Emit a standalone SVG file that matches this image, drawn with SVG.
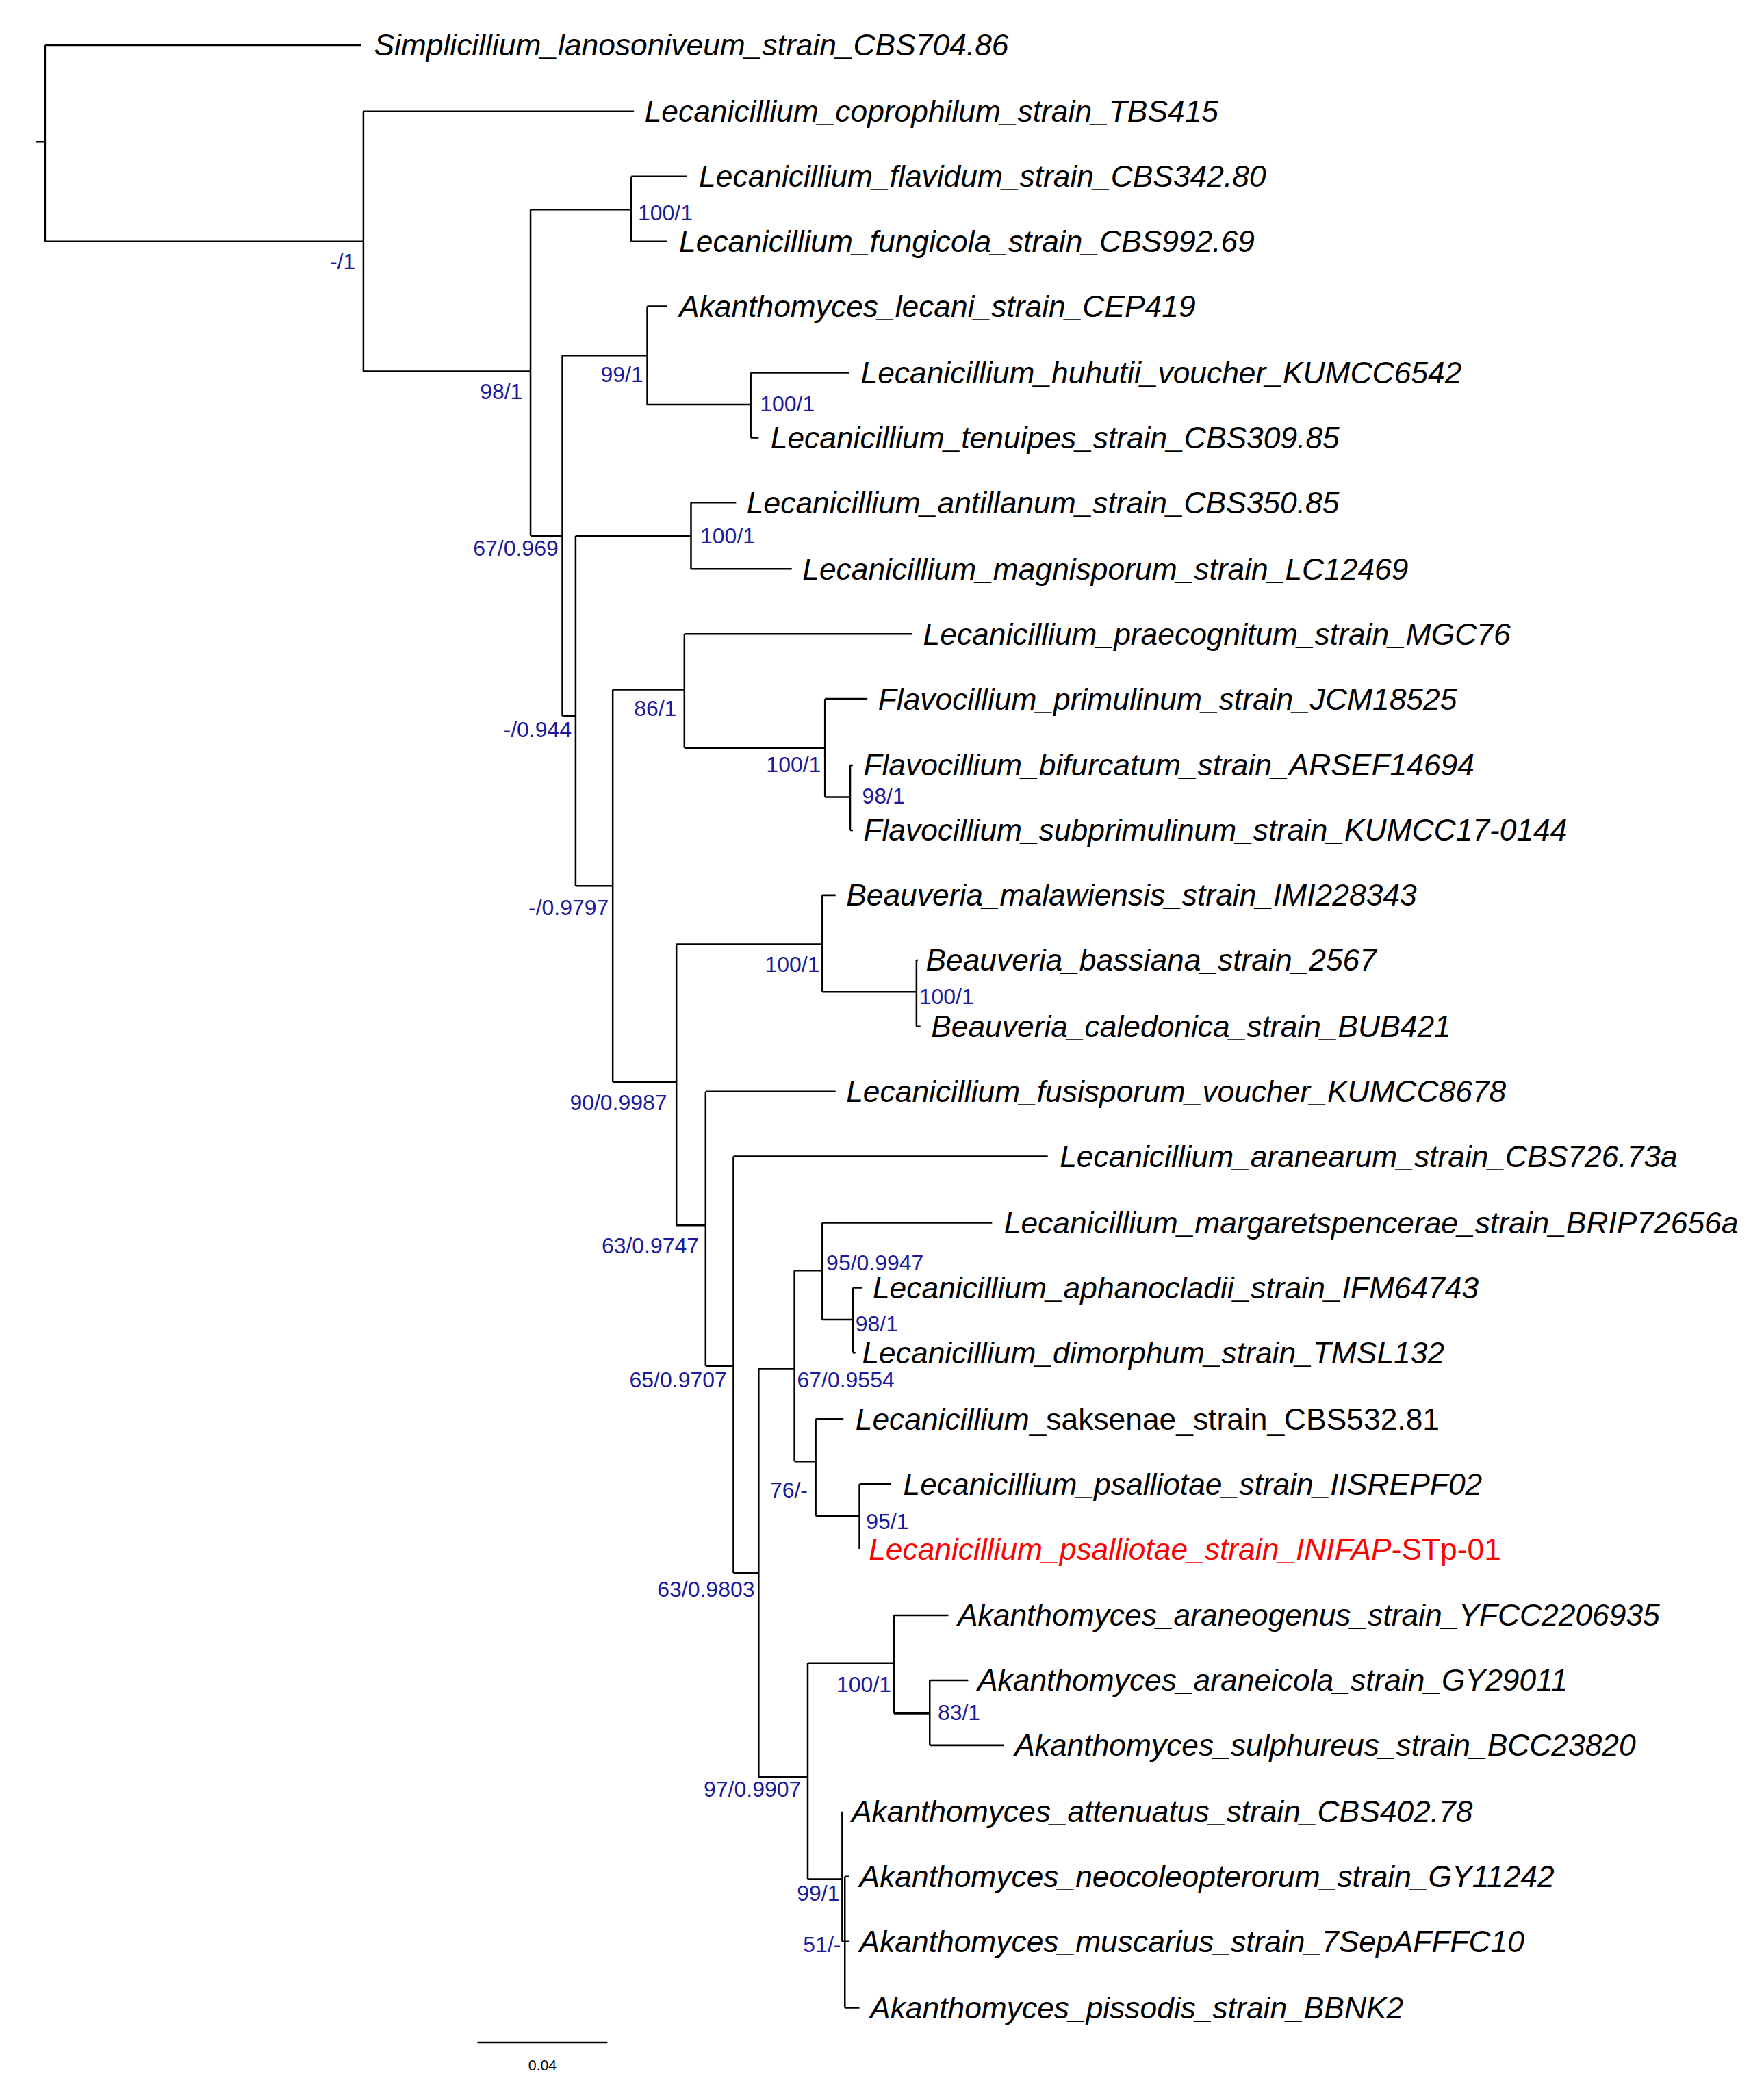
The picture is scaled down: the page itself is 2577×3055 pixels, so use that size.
<svg xmlns="http://www.w3.org/2000/svg" width="2577" height="3055" viewBox="0 0 2577 3055">
<style>
.b{stroke:#000;stroke-width:1.3;fill:none}
.t{font-family:"Liberation Sans",Arial,sans-serif;font-style:italic;font-size:22.9px;fill:#000}
.s{font-family:"Liberation Sans",Arial,sans-serif;font-size:16.5px;fill:#1a1a9a}
.r{text-anchor:end}
</style>
<rect width="2577" height="3055" fill="#fff"/>
<g transform="scale(1.9376)">
<g id="connectors" class="b">
<path d="M27,107H34M34,34V182M34,34H272M34,182H274"/>
<path d="M274,84V280M274,84H478M274,280H400"/>
<path d="M400,158V404M400,158H476M400,404H424"/>
<path d="M476,133V182M476,133H518M476,182H503"/>
<path d="M424,268V540M424,268H488M424,540H434"/>
<path d="M488,231V305M488,231H503M488,305H566"/>
<path d="M566,281V330M566,281H640M566,330H572"/>
<path d="M434,404V668M434,404H521M434,668H462"/>
<path d="M521,379V429M521,379H555M521,429H597"/>
<path d="M462,520V816M462,520H516M462,816H510"/>
<path d="M516,478V564M516,478H688M516,564H622"/>
<path d="M622,527V601M622,527H654M622,601H641"/>
<path d="M641,577V626M641,577H643M641,626H643"/>
<path d="M510,712V924M510,712H620M510,924H532"/>
<path d="M620,675V748M620,675H630M620,748H691"/>
<path d="M691,724V774M691,724H692M691,774H694"/>
<path d="M532,823V1030M532,823H630M532,1030H553"/>
<path d="M553,872V1186M553,872H790M553,1186H572"/>
<path d="M572,1032V1340M572,1032H599M572,1340H609"/>
<path d="M599,958V1102M599,958H620M599,1102H615"/>
<path d="M620,922V995M620,922H748M620,995H643"/>
<path d="M643,971V1020M643,971H650M643,1020H645"/>
<path d="M615,1070V1143M615,1070H636M615,1143H648"/>
<path d="M648,1119V1168M648,1119H672"/>
<path d="M609,1254V1417M609,1254H674M609,1417H635"/>
<path d="M674,1218V1292M674,1218H715M674,1292H701"/>
<path d="M701,1267V1316M701,1267H730M701,1316H757"/>
<path d="M635,1366V1464M635,1464H637"/>
<path d="M637,1415V1514M637,1415H640M637,1464H640M637,1514H648"/>
<path d="M360,1540H458"/>
</g>
<g id="tips" class="t">
<text id="t0" x="282" y="42">Simplicillium_lanosoniveum_strain_CBS704.86</text>
<text id="t1" x="486" y="92">Lecanicillium_coprophilum_strain_TBS415</text>
<text id="t2" x="527" y="141">Lecanicillium_flavidum_strain_CBS342.80</text>
<text id="t3" x="512" y="190">Lecanicillium_fungicola_strain_CBS992.69</text>
<text id="t4" x="512" y="239">Akanthomyces_lecani_strain_CEP419</text>
<text id="t5" x="649" y="289">Lecanicillium_huhutii_voucher_KUMCC6542</text>
<text id="t6" x="581" y="338">Lecanicillium_tenuipes_strain_CBS309.85</text>
<text id="t7" x="563" y="387">Lecanicillium_antillanum_strain_CBS350.85</text>
<text id="t8" x="605" y="437">Lecanicillium_magnisporum_strain_LC12469</text>
<text id="t9" x="696" y="486">Lecanicillium_praecognitum_strain_MGC76</text>
<text id="t10" x="662" y="535">Flavocillium_primulinum_strain_JCM18525</text>
<text id="t11" x="651" y="585">Flavocillium_bifurcatum_strain_ARSEF14694</text>
<text id="t12" x="651" y="634">Flavocillium_subprimulinum_strain_KUMCC17-0144</text>
<text id="t13" x="638" y="683">Beauveria_malawiensis_strain_IMI228343</text>
<text id="t14" x="698" y="732">Beauveria_bassiana_strain_2567</text>
<text id="t15" x="702" y="782">Beauveria_caledonica_strain_BUB421</text>
<text id="t16" x="638" y="831">Lecanicillium_fusisporum_voucher_KUMCC8678</text>
<text id="t17" x="799" y="880">Lecanicillium_aranearum_strain_CBS726.73a</text>
<text id="t18" x="757" y="930">Lecanicillium_margaretspencerae_strain_BRIP72656a</text>
<text id="t19" x="658" y="979">Lecanicillium_aphanocladii_strain_IFM64743</text>
<text id="t20" x="650" y="1028">Lecanicillium_dimorphum_strain_TMSL132</text>
<text id="t21" x="645" y="1078">Lecanicillium<tspan font-style="normal">_saksenae_strain_CBS532.81</tspan></text>
<text id="t22" x="681" y="1127">Lecanicillium_psalliotae_strain_IISREPF02</text>
<text id="t23" x="655" y="1176" fill="#ff0000">Lecanicillium_psalliotae_strain_INIFAP<tspan font-style="normal">-STp-01</tspan></text>
<text id="t24" x="722" y="1226">Akanthomyces_araneogenus_strain_YFCC2206935</text>
<text id="t25" x="737" y="1275">Akanthomyces_araneicola_strain_GY29011</text>
<text id="t26" x="765" y="1324">Akanthomyces_sulphureus_strain_BCC23820</text>
<text id="t27" x="642" y="1374">Akanthomyces_attenuatus_strain_CBS402.78</text>
<text id="t28" x="648" y="1423">Akanthomyces_neocoleopterorum_strain_GY11242</text>
<text id="t29" x="648" y="1472">Akanthomyces_muscarius_strain_7SepAFFFC10</text>
<text id="t30" x="656" y="1522">Akanthomyces_pissodis_strain_BBNK2</text>
</g>
<g id="supports" class="s">
<text class="r" x="268" y="203">-/1</text>
<text x="481" y="166">100/1</text>
<text class="r" x="394" y="301">98/1</text>
<text class="r" x="485" y="288">99/1</text>
<text x="573" y="310">100/1</text>
<text class="r" x="421" y="419">67/0.969</text>
<text x="528" y="410">100/1</text>
<text class="r" x="431" y="556">-/0.944</text>
<text x="478" y="540">86/1</text>
<text class="r" x="619" y="582">100/1</text>
<text x="650" y="606">98/1</text>
<text class="r" x="459" y="690">-/0.9797</text>
<text class="r" x="618" y="733">100/1</text>
<text x="693" y="757">100/1</text>
<text class="r" x="503" y="837">90/0.9987</text>
<text class="r" x="527" y="945">63/0.9747</text>
<text x="623" y="958">95/0.9947</text>
<text x="645" y="1004">98/1</text>
<text class="r" x="548" y="1046">65/0.9707</text>
<text x="601" y="1046">67/0.9554</text>
<text class="r" x="609" y="1129">76/-</text>
<text x="653" y="1153">95/1</text>
<text class="r" x="569" y="1204">63/0.9803</text>
<text class="r" x="672" y="1276">100/1</text>
<text x="707" y="1297">83/1</text>
<text class="r" x="604" y="1355">97/0.9907</text>
<text class="r" x="633" y="1433">99/1</text>
<text class="r" x="634" y="1472">51/-</text>
</g>
<text id="scale" x="409" y="1561" text-anchor="middle" font-family="Liberation Sans,Arial,sans-serif" font-size="11">0.04</text>
</g>
</svg>
